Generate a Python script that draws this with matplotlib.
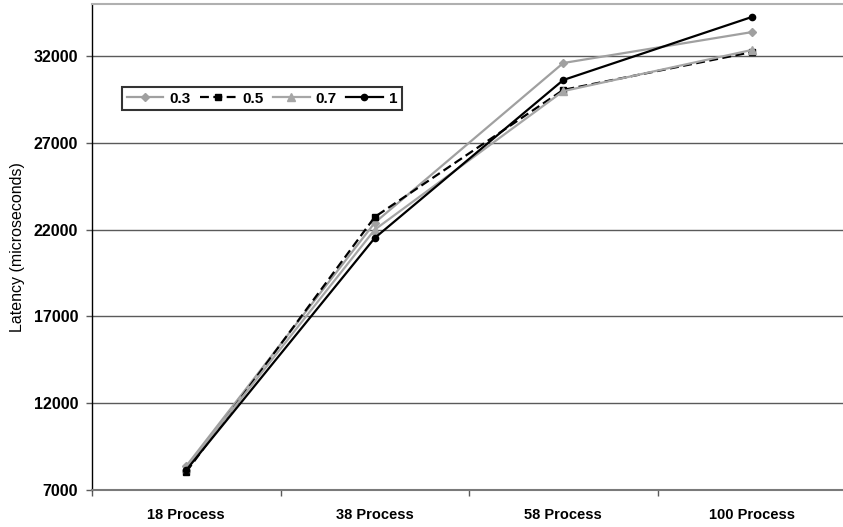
import numpy as np
import matplotlib
matplotlib.use("Agg")
import matplotlib.pyplot as plt
from matplotlib.ticker import FixedLocator

plt.rcParams['font.family'] = ['Liberation Sans', 'DejaVu Sans']

# data
categories = ["18 Process", "38 Process", "58 Process", "100 Process"]
series_names = ["0.3", "0.5", "0.7", "1"]
lat_03 = [8380, 22400, 31600, 33380]
lat_05 = [8040, 22730, 30050, 32230]
lat_07 = [8270, 22000, 29980, 32350]
lat_1 = [8150, 21520, 30620, 34250]

yticks = [7000, 12000, 17000, 22000, 27000, 32000]

fig = plt.figure(figsize=(8.43, 5.27), dpi=100)
ax = fig.add_axes([92 / 843, 1 - 490 / 527, 754 / 843, 486 / 527])

x = np.arange(len(categories))
styles = [
    dict(color="#a0a0a0", ls="-", marker="D", ms=4),
    dict(color="black", ls=(0, (4, 2)), marker="s", ms=5),
    dict(color="#a6a6a6", ls="-", marker="^", ms=6),
    dict(color="black", ls="-", marker="o", ms=4.5),
]
for name, vals, st in zip(series_names, [lat_03, lat_05, lat_07, lat_1], styles):
    ax.plot(x, vals, color=st["color"], linestyle=st["ls"], marker=st["marker"],
            markersize=st["ms"], markerfacecolor=st["color"], markeredgecolor=st["color"],
            linewidth=1.6, label=name, zorder=3)

ax.set_xlim(-0.5, 3.5)
ax.set_ylim(7000, 35000)
ax.set_yticks(yticks)
ax.set_yticklabels([str(v) for v in yticks], fontsize=11.5, fontweight="bold")
ax.grid(axis="y", color="#5a5a5a", linewidth=1.0, zorder=0)
ax.set_axisbelow(True)

ax.set_xticks(x)
ax.set_xticklabels(categories, fontsize=10.5, fontweight="bold")
ax.xaxis.set_minor_locator(FixedLocator(np.arange(-0.5, 4.0, 1.0)))
ax.tick_params(axis="x", which="major", length=0, pad=13)
ax.tick_params(axis="x", which="minor", length=4, width=1, color="#5a5a5a", direction="out")
ax.tick_params(axis="y", length=4, width=1, color="#5a5a5a", direction="out", pad=6)

ax.spines["left"].set_color("black")
ax.spines["left"].set_linewidth(1.0)
ax.spines["bottom"].set_color("#7a7a7a")
ax.spines["bottom"].set_linewidth(1.5)
ax.spines["top"].set_color("#b0b0b0")
ax.spines["top"].set_linewidth(1.5)
ax.spines["right"].set_visible(False)

ax.set_ylabel("Latency (microseconds)", fontsize=11.5, labelpad=6)

leg = fig.legend(loc="upper left", bbox_to_anchor=(122 / 843, 1 - 87 / 527), ncol=4,
                 frameon=True, fancybox=False, borderaxespad=0,
                 prop={"weight": "bold", "size": 11}, handlelength=2.4,
                 columnspacing=0.6, handletextpad=0.4, borderpad=0.3)
leg.get_frame().set_edgecolor("black")
leg.get_frame().set_linewidth(1.5)

fig.savefig("out.png", dpi=100)
